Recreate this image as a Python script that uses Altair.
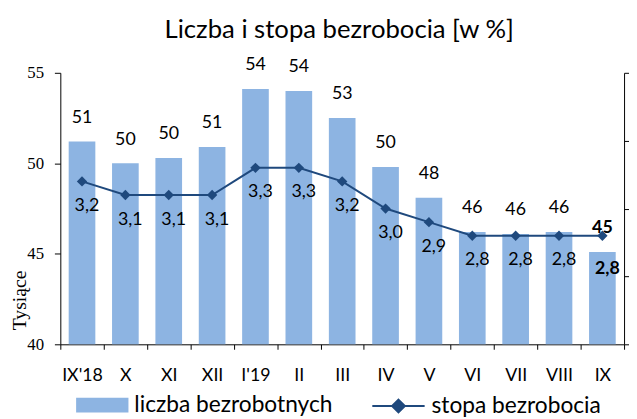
import altair as alt
import pandas as pd

months = ["IX'18", "X", "XI", "XII", "I'19", "II", "III", "IV", "V", "VI", "VII", "VIII", "IX"]
unemployed = [51.2, 50.0, 50.3, 50.9, 54.1, 54.0, 52.5, 49.8, 48.1, 46.2, 46.1, 46.2, 45.1]
unemployed_labels = ["51", "50", "50", "51", "54", "54", "53", "50", "48", "46", "46", "46", "45"]
rate = [3.2, 3.1, 3.1, 3.1, 3.3, 3.3, 3.2, 3.0, 2.9, 2.8, 2.8, 2.8, 2.8]

BAR_NAME = "liczba bezrobotnych"
LINE_NAME = "stopa bezrobocia"
BAR_COLOR = "#8DB4E2"
LINE_COLOR = "#1F497D"
FONT = "Lato"

df = pd.DataFrame({
    "month": months,
    "unemp": unemployed,
    "ulabel": unemployed_labels,
    "rate": rate,
})
df["rlabel"] = [f"{r:.1f}".replace(".", ",") for r in rate]
df["last"] = [i == len(months) - 1 for i in range(len(months))]

x_enc = alt.X(
    "month:N", sort=months, title=None,
    scale=alt.Scale(paddingInner=0, paddingOuter=0),
    axis=alt.Axis(labelAngle=0, labelFont=FONT, labelFontSize=18, labelColor="black",
                  domainColor="black", tickColor="black", tickSize=5, tickBand="extent",
                  labelPadding=18, grid=False),
)
x_plain = alt.X("month:N", sort=months)

bar_legend = alt.Legend(
    title=None, orient="none", legendX=16, legendY=310, direction="horizontal",
    labelFont=FONT, labelFontSize=23, labelColor="black", labelOffset=6, labelLimit=400,
    symbolSize=2809, symbolType="M-1,-0.283H1V0.283H-1Z", symbolStrokeWidth=0,
    symbolOpacity=1,
)
line_legend = alt.Legend(
    title=None, orient="none", legendX=315, legendY=310, direction="horizontal",
    labelFont=FONT, labelFontSize=23, labelColor="black", labelOffset=6, labelLimit=400,
    symbolSize=2809, symbolType="M-1,0H1M0,-0.245L0.245,0L0,0.245L-0.245,0Z",
    symbolStrokeWidth=2, symbolFillColor=LINE_COLOR, symbolStrokeColor=LINE_COLOR,
    symbolOpacity=1,
)

y_left = alt.Y(
    "unemp:Q", scale=alt.Scale(domain=[40, 55], zero=False, nice=False),
    axis=alt.Axis(values=[40, 45, 50, 55], title="Tysiące", titleFont="Liberation Serif",
                  titleFontSize=20, titleFontWeight="normal", titleColor="black",
                  titleX=-41, titleY=230, titleBaseline="middle",
                  labelFont="Liberation Serif", labelFontSize=17, labelColor="black",
                  domainColor="black", tickColor="black", tickSize=6, labelPadding=11, grid=False),
)

base = alt.Chart(df)

bars = base.transform_calculate(series=f"'{BAR_NAME}'").mark_bar(size=27).encode(
    x=x_enc, y=y_left, y2=alt.datum(40),
    color=alt.Color("series:N", scale=alt.Scale(domain=[BAR_NAME], range=[BAR_COLOR]),
                    legend=bar_legend),
)
bar_labels = base.transform_filter("!datum.last").mark_text(
    dy=-24, font=FONT, fontSize=18, color="black"
).encode(x=x_plain, y="unemp:Q", text="ulabel:N")
bar_label_last = base.transform_filter("datum.last").mark_text(
    dy=-24, font=FONT, fontSize=18, fontWeight="bold", color="black"
).encode(x=x_plain, y="unemp:Q", text="ulabel:N")
left = alt.layer(bars, bar_labels, bar_label_last)

y_right = alt.Y(
    "rate:Q", scale=alt.Scale(domain=[2, 4], zero=False, nice=False),
    axis=alt.Axis(orient="right", values=[2, 2.5, 3, 3.5, 4], labels=False, title=None,
                  domainColor="black", tickColor="black", tickSize=5, grid=False),
)
line_color = alt.Color("series:N", scale=alt.Scale(domain=[LINE_NAME], range=[LINE_COLOR]),
                       legend=line_legend)
line = base.transform_calculate(series=f"'{LINE_NAME}'").mark_line(strokeWidth=2).encode(
    x=x_plain, y=y_right, color=line_color,
)
points = base.transform_calculate(series=f"'{LINE_NAME}'").mark_point(
    shape="diamond", filled=True, size=110, opacity=1
).encode(x=x_plain, y="rate:Q", color=line_color)
line_labels = base.transform_filter("!datum.last").mark_text(
    dx=5, dy=25, font=FONT, fontSize=18, color="black"
).encode(x=x_plain, y="rate:Q", text="rlabel:N")
line_label_last = base.transform_filter("datum.last").mark_text(
    dx=5, dy=34, font=FONT, fontSize=18, fontWeight="bold", color="black"
).encode(x=x_plain, y="rate:Q", text="rlabel:N")
right = alt.layer(line, points, line_labels, line_label_last)

chart = alt.layer(left, right).resolve_scale(y="independent", color="independent").resolve_legend(
    color="independent"
).properties(
    width=571, height=275,
    title=alt.Title("Liczba i stopa bezrobocia [w %]", font=FONT, fontSize=26,
                    fontWeight="normal", color="black", anchor="middle", dx=-3, offset=14),
    autosize=alt.AutoSizeParams(type="none"),
    padding={"left": 53, "top": 63, "right": 5, "bottom": 73},
).configure_view(stroke=None)

chart.save("out.html", embed_options={"renderer": "svg", "actions": False})
